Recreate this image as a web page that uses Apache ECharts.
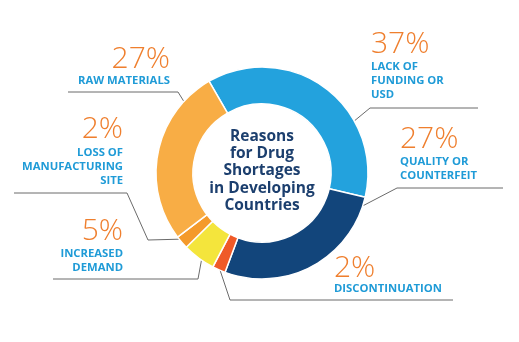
<!DOCTYPE html>
<html>
<head>
<meta charset="utf-8">
<script src="https://cdn.jsdelivr.net/npm/echarts@6/dist/echarts.min.js"></script>
<style>
html,body{margin:0;padding:0;background:#fff;}
#chart{width:519px;height:342px;}
</style>
</head>
<body>
<div id="chart"></div>
<script>
// ---- data ----
var categories = ['LACK OF\nFUNDING OR\nUSD', 'QUALITY OR\nCOUNTERFEIT', 'DISCONTINUATION', 'INCREASED\nDEMAND', 'LOSS OF\nMANUFACTURING\nSITE', 'RAW MATERIALS'];
var values = [37, 27, 2, 5, 2, 27];
var percentLabels = ['37%', '27%', '2%', '5%', '2%', '27%'];
var centerTitle = 'Reasons\nfor Drug\nShortages\nin Developing\nCountries';

// ---- styles / layout ----
var colors = ['#23a2dd', '#12457b', '#ef5a28', '#f4e53c', '#f49a2b', '#f8ad45'];
var CX = 262, CY = 173, R_IN = 69, R_OUT = 106, START = 120; // startAngle in echarts degrees
// label layout: side, text anchor x, percent y, first name-line y, where on slice (fraction), leader path after ring point
var layout = [
  {align: 'left',  x: 371, py: 44,  ny: 67,  frac: 0.68, path: [[370,108],[478,108]]},
  {align: 'left',  x: 400, py: 139, ny: 162, frac: 0.05, path: [[397,188],[503,188]]},
  {align: 'left',  x: 334, py: 268, ny: 289, frac: 0.4,  path: [[230,300],[453,300]]},
  {align: 'right', x: 123, py: 231, ny: 254, frac: 0.4,  path: [[198,279],[53,279]]},
  {align: 'right', x: 123, py: 129, ny: 153, frac: 0.8,  path: [[148,240],[127,193],[14,193]]},
  {align: 'right', x: 170, py: 59,  ny: 81,  frac: 0.82, path: [[178,92],[68,92]]}
];

var chart = echarts.init(document.getElementById('chart'), null, {renderer: 'canvas'});

var total = values.reduce(function(a, b){ return a + b; }, 0);
var graphics = [];
var acc = 0; // clockwise degrees from 12 o'clock
var startFromTop = START - 90; // counterclockwise offset from top
for (var i = 0; i < values.length; i++) {
  var span = values[i] / total * 360;
  var a0 = -startFromTop + acc;
  var ang = (a0 + span * layout[i].frac) * Math.PI / 180;
  acc += span;
  var rx = CX + R_OUT * Math.sin(ang);
  var ry = CY - R_OUT * Math.cos(ang);
  var pts = [[rx, ry]].concat(layout[i].path);
  graphics.push({
    type: 'polyline', silent: true, z: 1,
    shape: {points: pts},
    style: {stroke: '#6b6b6b', lineWidth: 1, fill: null}
  });
  graphics.push({
    type: 'text', silent: true, z: 2,
    style: {
      text: percentLabels[i], x: layout[i].x, y: layout[i].py,
      textAlign: layout[i].align, textVerticalAlign: 'middle',
      font: '300 30px "Open Sans", sans-serif', fill: '#ef7f2e'
    }
  });
  graphics.push({
    type: 'text', silent: true, z: 2,
    style: {
      text: categories[i], x: layout[i].x, y: layout[i].ny - 7,
      textAlign: layout[i].align, textVerticalAlign: 'top',
      font: '700 11.3px "Open Sans", sans-serif', fill: '#1f9bd7',
      lineHeight: 14
    }
  });
}
graphics.push({
  type: 'text', silent: true, z: 2,
  style: {
    text: centerTitle, x: CX, y: 171,
    textAlign: 'center', textVerticalAlign: 'middle',
    font: '700 15.5px "Open Sans", sans-serif', fill: '#1c3f6e',
    lineHeight: 17.3
  }
});

chart.setOption({
  backgroundColor: '#ffffff',
  animation: false,
  color: colors,
  series: [{
    type: 'pie',
    center: [CX, CY],
    radius: [R_IN, R_OUT],
    startAngle: START,
    clockwise: true,
    avoidLabelOverlap: false,
    label: {show: false},
    labelLine: {show: false},
    itemStyle: {borderColor: '#ffffff', borderWidth: 1.5},
    emphasis: {disabled: true},
    data: values.map(function(v, i){ return {value: v, name: categories[i].replace(/\n/g, ' ')}; })
  }],
  graphic: graphics
});
</script>
</body>
</html>
